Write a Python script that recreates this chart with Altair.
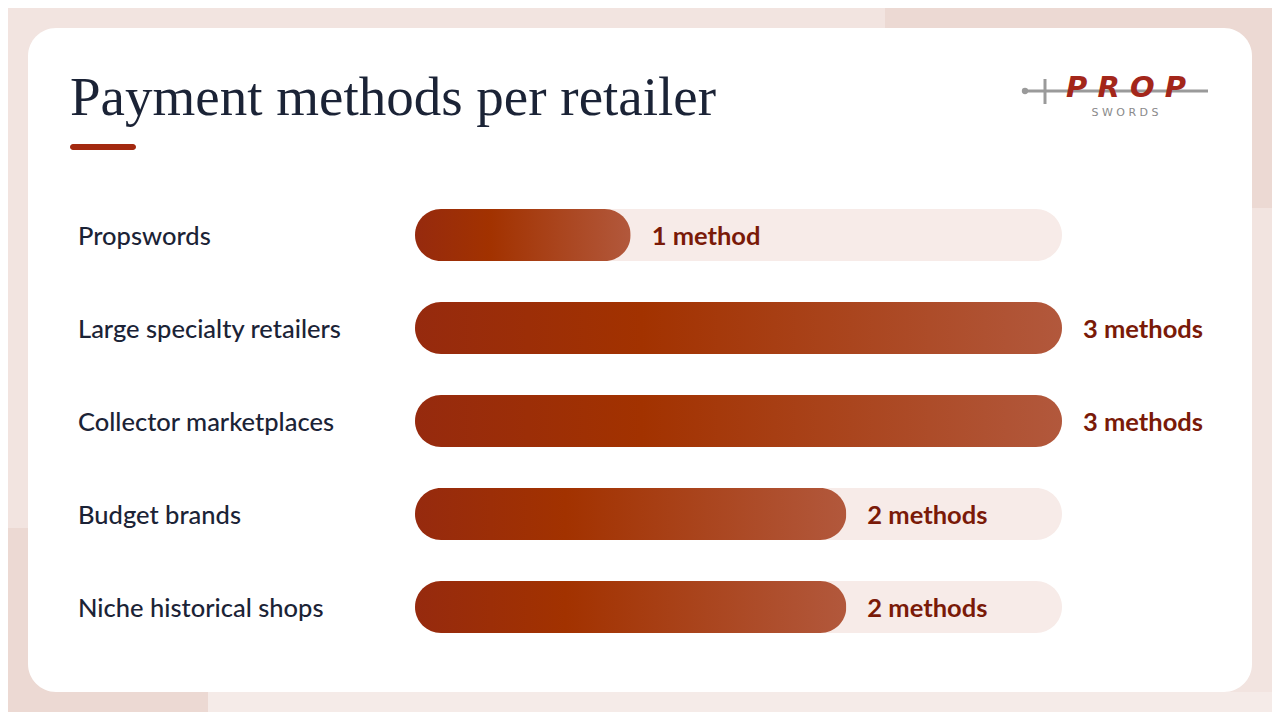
import altair as alt
import pandas as pd

retailers = ["Propswords", "Large specialty retailers", "Collector marketplaces", "Budget brands", "Niche historical shops"]
methods = [1, 3, 3, 2, 2]
method_labels = ["1 method", "3 methods", "3 methods", "2 methods", "2 methods"]
max_methods = 3

df = pd.DataFrame({"retailer": retailers, "methods": methods, "label": method_labels, "full": [max_methods] * len(retailers)})
one = pd.DataFrame({"k": [0]})

W, H = 1264, 704
dark = "#1b2336"
red_text = "#7a1a08"

xscale = alt.Scale(domain=[0, max_methods], range=[407, 1054])
yscale = alt.Scale(domain=retailers, range=[180.5, 645.5], paddingInner=41 / 93, paddingOuter=41 / 186)

base = alt.Chart(df)
single = alt.Chart(one)

def rect(x, x2, y, y2, color, r=0):
    return single.mark_rect(color=color, cornerRadius=r).encode(
        x=alt.value(x), x2=alt.value(x2), y=alt.value(y), y2=alt.value(y2))

bg_tr = rect(877, W, 0, 200, "#ecd9d3")
bg_bl = rect(0, 200, 520, H, "#ecd9d3")
bg_br = rect(200, W, 684, H, "#f5ebe8")
card = rect(20, 1244, 20, 684, "#ffffff", 28)

title = single.mark_text(text="Payment methods per retailer", font="Liberation Serif", fontSize=55,
                         color=dark, align="left", baseline="alphabetic").encode(
    x=alt.value(62), y=alt.value(107))
accent = rect(62, 128, 136, 142, "#a3290f", 3)

sword = single.mark_rule(color="#9a9a9a", strokeWidth=3).encode(
    x=alt.value(1016), x2=alt.value(1200), y=alt.value(83))
guard = single.mark_rule(color="#9a9a9a", strokeWidth=3).encode(
    x=alt.value(1037), y=alt.value(71), y2=alt.value(96))
pommel = single.mark_point(filled=True, color="#9a9a9a", size=40, opacity=1).encode(
    x=alt.value(1017), y=alt.value(83))
prop = single.mark_text(text="P R O P", font="DejaVu Sans", fontSize=29, fontWeight="bold", fontStyle="italic",
                        color="#a3261a", align="center", baseline="middle").encode(
    x=alt.value(1118), y=alt.value(80))
swords = single.mark_text(text="S    W    O    R    D    S", font="DejaVu Sans", fontSize=11, color="#8a8a8a",
                          align="center", baseline="middle").encode(
    x=alt.value(1117), y=alt.value(105))

track = base.mark_bar(color="#f7ebe8", cornerRadius=26).encode(
    x=alt.X("full:Q", scale=xscale, axis=None), x2=alt.value(407),
    y=alt.Y("retailer:N", scale=yscale, axis=None, sort=retailers))

grad = alt.Gradient(gradient="linear", x1=0, x2=1, y1=0, y2=0, stops=[
    alt.GradientStop(offset=0, color="#962a0e"),
    alt.GradientStop(offset=0.35, color="#a23200"),
    alt.GradientStop(offset=1, color="#b2583c"),
])
bars = base.mark_bar(color=grad, cornerRadius=26).encode(
    x=alt.X("methods:Q", scale=xscale, axis=None), x2=alt.value(407),
    y=alt.Y("retailer:N", scale=yscale, axis=None, sort=retailers))

names = base.mark_text(font="Lato", fontSize=25.5, fontWeight=500, color=dark, align="left", baseline="middle",
                       dy=2).encode(
    x=alt.value(70), y=alt.Y("retailer:N", scale=yscale, axis=None, sort=retailers), text="retailer:N")

values = base.mark_text(font="Lato", fontSize=25.5, fontWeight="bold", color=red_text, align="left",
                        baseline="middle", dx=21, dy=2).encode(
    x=alt.X("methods:Q", scale=xscale, axis=None),
    y=alt.Y("retailer:N", scale=yscale, axis=None, sort=retailers), text="label:N")

chart = alt.layer(bg_tr, bg_bl, bg_br, card, title, accent, sword, guard, pommel, prop, swords,
                  track, bars, names, values).properties(
    width=W, height=H, autosize=alt.AutoSizeParams(type="none"), padding=0, background="#f2e4e0"
).configure_view(stroke=None)

chart.save("out.html", embed_options={"renderer": "svg", "actions": False})
